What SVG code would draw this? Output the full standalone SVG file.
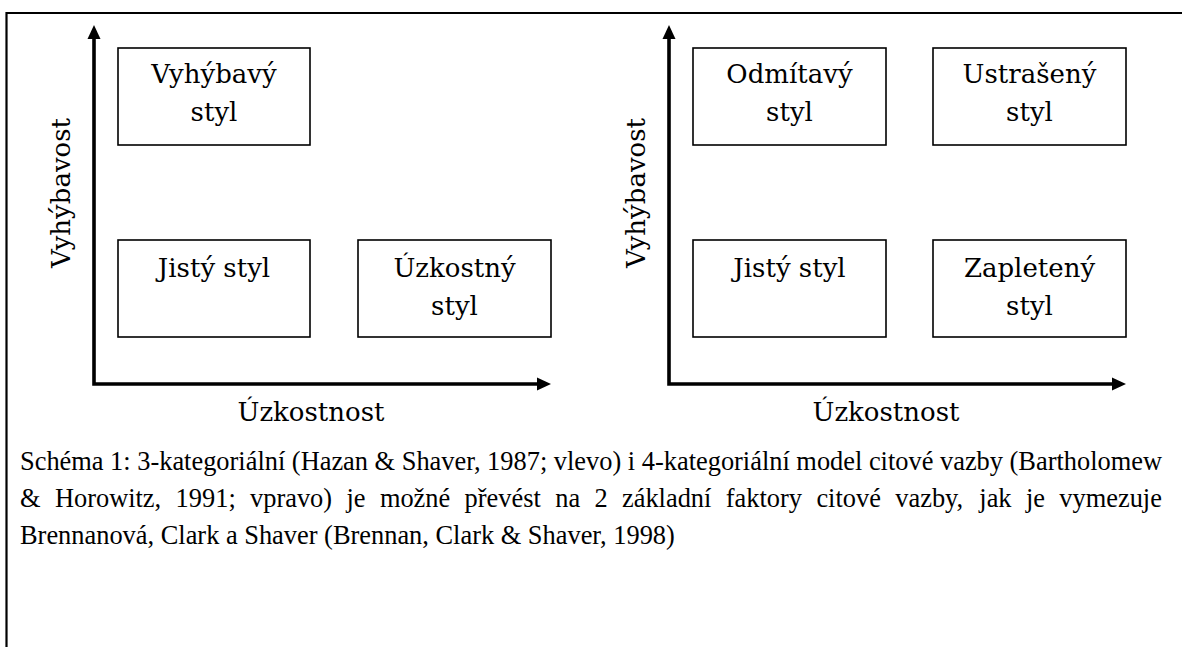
<svg xmlns="http://www.w3.org/2000/svg" width="1182" height="647" viewBox="0 0 1182 647">
<style>
.box{fill:#fff;stroke:#000;stroke-width:1.6}
.lbl{font-family:"DejaVu Serif","Liberation Serif",serif;font-size:26px;fill:#000;text-anchor:middle}
.axis{fill:none;stroke:#000;stroke-width:3.6;stroke-linejoin:miter;stroke-linecap:butt}
.head{fill:#000}
.cap{font-family:"Liberation Serif","Times New Roman",serif;font-size:26.4px;fill:#000}
.frame{stroke:#000;stroke-width:2.2;fill:none}
</style>
<rect width="1182" height="647" fill="#fff"/>
<g id="frame"><path class="frame" d="M6.5,647 V13 H1182"/></g>
<g id="connectors">
  <path class="axis" d="M94,38 V384 H538"/>
  <polygon class="head" points="94,25 87.5,39 100.5,39"/>
  <polygon class="head" points="551,384 537,377.5 537,390.5"/>
  <path class="axis" d="M669,38 V384 H1113"/>
  <polygon class="head" points="669,25 662.5,39 675.5,39"/>
  <polygon class="head" points="1126,384 1112,377.5 1112,390.5"/>
</g>
<g id="axis-labels">
  <text class="lbl" transform="translate(70,193) rotate(-90)">Vyhýbavost</text>
  <text class="lbl" x="311" y="421">Úzkostnost</text>
  <text class="lbl" transform="translate(645,193) rotate(-90)">Vyhýbavost</text>
  <text class="lbl" x="886" y="421">Úzkostnost</text>
</g>
<g id="vyhybavy">
  <rect class="box" x="118" y="48" width="192" height="97"/>
  <text class="lbl" x="214" y="83">Vyhýbavý</text>
  <text class="lbl" x="214" y="121">styl</text>
</g>
<g id="jisty-left">
  <rect class="box" x="118" y="240" width="192" height="97"/>
  <text class="lbl" x="214" y="277">Jistý styl</text>
</g>
<g id="uzkostny">
  <rect class="box" x="358" y="240" width="193" height="97"/>
  <text class="lbl" x="454.5" y="277">Úzkostný</text>
  <text class="lbl" x="454.5" y="315">styl</text>
</g>
<g id="odmitavy">
  <rect class="box" x="693" y="48" width="193" height="97"/>
  <text class="lbl" x="789.5" y="83">Odmítavý</text>
  <text class="lbl" x="789.5" y="121">styl</text>
</g>
<g id="ustraseny">
  <rect class="box" x="933" y="48" width="193" height="97"/>
  <text class="lbl" x="1029.5" y="83">Ustrašený</text>
  <text class="lbl" x="1029.5" y="121">styl</text>
</g>
<g id="jisty-right">
  <rect class="box" x="693" y="240" width="193" height="97"/>
  <text class="lbl" x="789.5" y="277">Jistý styl</text>
</g>
<g id="zapleteny">
  <rect class="box" x="933" y="240" width="193" height="97"/>
  <text class="lbl" x="1029.5" y="277">Zapletený</text>
  <text class="lbl" x="1029.5" y="315">styl</text>
</g>
<g id="caption">
  <text class="cap" x="20" y="470" textLength="1142" lengthAdjust="spacing">Schéma 1: 3-kategoriální (Hazan &amp; Shaver, 1987; vlevo) i 4-kategoriální model citové vazby (Bartholomew</text>
  <text class="cap" y="507"><tspan x="20">&amp;</tspan><tspan x="54.9">Horowitz,</tspan><tspan x="175.6">1991;</tspan><tspan x="250">vpravo)</tspan><tspan x="346.5">je</tspan><tspan x="379.9">možné</tspan><tspan x="464.6">převést</tspan><tspan x="555.2">na</tspan><tspan x="594.5">2</tspan><tspan x="622">základní</tspan><tspan x="725.8">faktory</tspan><tspan x="816.4">citové</tspan><tspan x="895.3">vazby,</tspan><tspan x="979.3">jak</tspan><tspan x="1025.9">je</tspan><tspan x="1059.3">vymezuje</tspan></text>
  <text class="cap" x="20" y="544">Brennanová, Clark a Shaver (Brennan, Clark &amp; Shaver, 1998)</text>
</g>
</svg>
